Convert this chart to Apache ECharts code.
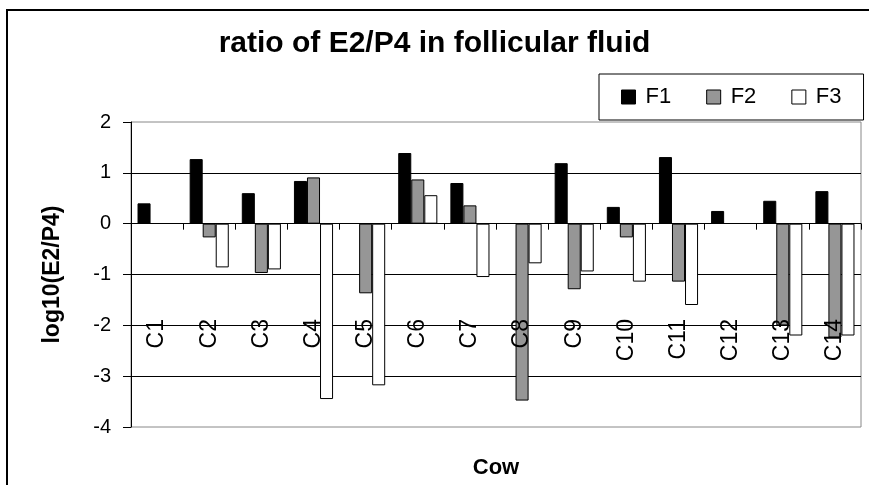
<!DOCTYPE html>
<html>
<head>
<meta charset="utf-8">
<title>ratio of E2/P4 in follicular fluid</title>
<script src="https://cdn.jsdelivr.net/npm/echarts@6/dist/echarts.min.js"></script>
<style>
  html, body { margin: 0; padding: 0; background: #fff; }
  #chart { width: 869px; height: 485px; }
</style>
</head>
<body>
<div id="chart"></div>
<script>
// Cows along the category axis
const cows = ['C1', 'C2', 'C3', 'C4', 'C5', 'C6', 'C7', 'C8', 'C9', 'C10', 'C11', 'C12', 'C13', 'C14'];

// log10(E2/P4) per follicle; null where no value was measured
const f1 = [0.40, 1.27, 0.60, 0.84, null, 1.39, 0.80, null, 1.19, 0.33, 1.31, 0.25, 0.45, 0.64];
const f2 = [null, -0.27, -0.97, 0.91, -1.37, 0.87, 0.36, -3.48, -1.29, -0.27, -1.14, null, -2.00, -2.24];
const f3 = [null, -0.86, -0.90, -3.45, -3.18, 0.56, -1.05, -0.78, -0.94, -1.14, -1.60, null, -2.20, -2.20];

const yTicks = { min: -4, max: 2, step: 1 };

const FONT = '"Liberation Sans", Arial, sans-serif';

function barSeries(name, data, fill) {
  return {
    name: name,
    type: 'bar',
    data: data,
    barGap: '0%',
    barCategoryGap: '25%',
    itemStyle: { color: fill, borderColor: '#000', borderWidth: 1 }
  };
}

const chart = echarts.init(document.getElementById('chart'), null, { renderer: 'canvas' });

chart.setOption({
  backgroundColor: '#fff',
  animation: false,
  textStyle: { fontFamily: FONT, color: '#000' },
  title: {
    text: 'ratio of E2/P4 in follicular fluid',
    left: 'center',
    top: 29,
    padding: 0,
    textStyle: { fontFamily: FONT, fontSize: 30, fontWeight: 'bold', color: '#000' }
  },
  legend: {
    left: 599,
    top: 74,
    orient: 'horizontal',
    padding: [12, 22, 12, 22],
    itemGap: 35,
    itemWidth: 14,
    itemHeight: 14,
    itemStyle: { borderColor: '#000', borderWidth: 1 },
    borderColor: '#000',
    borderWidth: 1,
    textStyle: { fontFamily: FONT, fontSize: 22, color: '#000', padding: [0, 0, 0, 5] },
    data: [
      { name: 'F1', icon: 'rect' },
      { name: 'F2', icon: 'rect' },
      { name: 'F3', icon: 'rect' }
    ]
  },
  grid: {
    left: 131,
    right: 8,
    top: 122,
    bottom: 58,
    containLabel: false,
    outerBoundsMode: 'none',
    show: true,
    borderColor: '#888',
    borderWidth: 1,
    backgroundColor: 'transparent'
  },
  xAxis: {
    type: 'category',
    data: cows,
    z: 10,
    name: 'Cow',
    nameLocation: 'middle',
    nameGap: 30,
    nameTextStyle: { fontFamily: FONT, fontSize: 22, fontWeight: 'bold', color: '#000' },
    axisLine: { show: true, onZero: true, lineStyle: { color: '#000', width: 1 } },
    axisTick: { show: true, length: 6, alignWithLabel: false, lineStyle: { color: '#000' } },
    axisLabel: {
      rotate: 90,
      margin: -108,
      interval: 0,
      fontFamily: FONT,
      fontSize: 23,
      color: '#000'
    },
    splitLine: { show: false }
  },
  yAxis: {
    type: 'value',
    min: yTicks.min,
    max: yTicks.max,
    interval: yTicks.step,
    name: 'log10(E2/P4)',
    nameLocation: 'middle',
    nameRotate: 90,
    nameGap: 67,
    nameTextStyle: { fontFamily: FONT, fontSize: 23, fontWeight: 'bold', color: '#000' },
    axisLine: { show: true, lineStyle: { color: '#000', width: 1 } },
    axisTick: { show: true, length: 8, lineStyle: { color: '#000' } },
    axisLabel: { margin: 20, fontFamily: FONT, fontSize: 20, color: '#000' },
    splitLine: { show: true, showMinLine: false, showMaxLine: false, lineStyle: { color: '#000', width: 1 } }
  },
  series: [
    barSeries('F1', f1, '#000000'),
    barSeries('F2', f2, '#969696'),
    barSeries('F3', f3, '#ffffff')
  ],
  graphic: [
    {
      type: 'polyline',
      silent: true,
      shape: { points: [[7, 485], [7, 10], [869, 10]] },
      style: { fill: null, stroke: '#000', lineWidth: 2 }
    }
  ]
});
</script>
</body>
</html>
